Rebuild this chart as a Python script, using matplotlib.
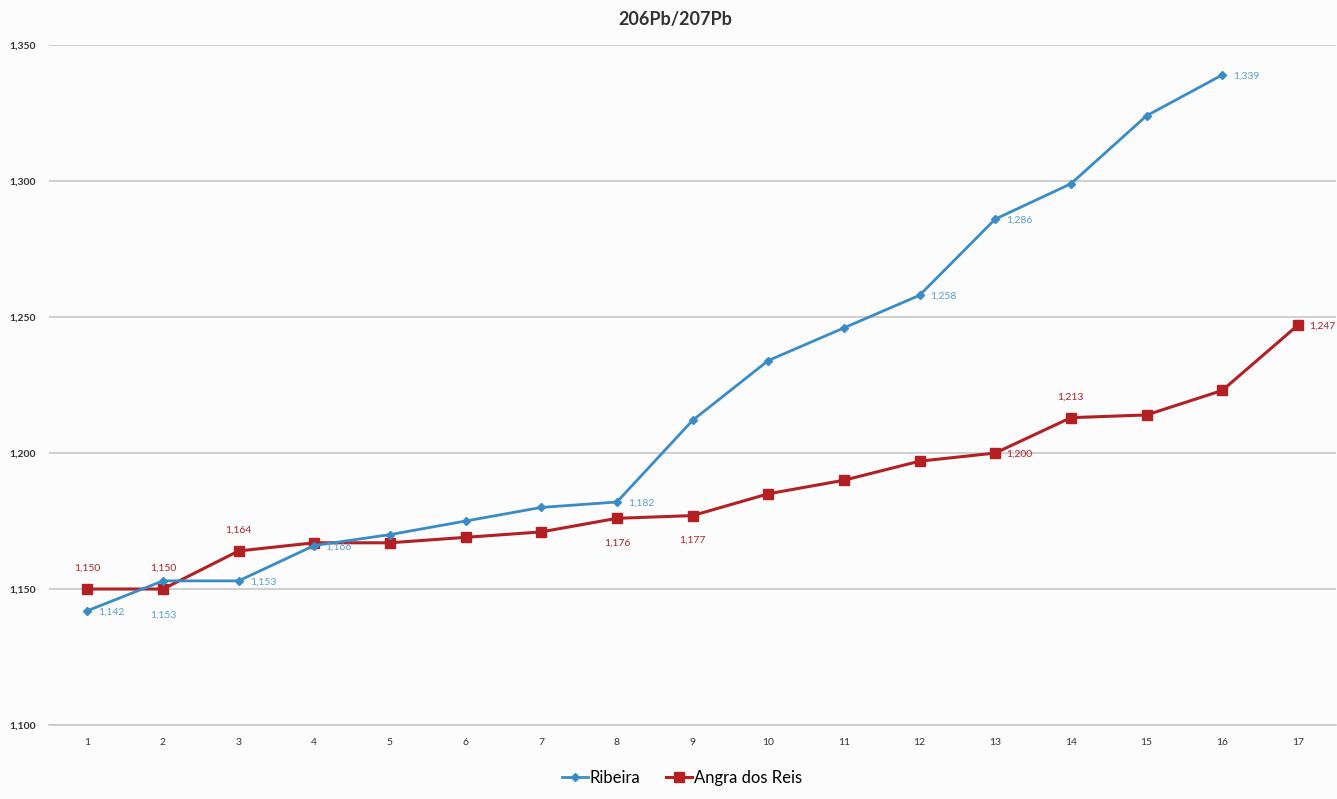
import matplotlib
matplotlib.use("Agg")
import matplotlib.pyplot as plt

plt.rcParams['font.family'] = ['Lato', 'DejaVu Sans']

samples = list(range(1, 18))

ribeira = [1.142, 1.153, 1.153, 1.166, 1.170, 1.175, 1.180, 1.182,
           1.212, 1.234, 1.246, 1.258, 1.286, 1.299, 1.324, 1.339]
angra = [1.150, 1.150, 1.164, 1.167, 1.167, 1.169, 1.171, 1.176, 1.177,
         1.185, 1.190, 1.197, 1.200, 1.213, 1.214, 1.223, 1.247]

# which points get a value label, and where (dx, dy in points, ha)
ribeira_labels = {1: (8, -1, 'left'), 2: (0, -25, 'center'),
                  3: (8, -1, 'left'), 4: (8, -1, 'left'),
                  8: (8, -1, 'left'), 12: (8, -1, 'left'),
                  13: (8, -1, 'left'), 16: (8, -1, 'left')}
angra_labels = {1: (0, 15, 'center'), 2: (0, 15, 'center'),
                3: (0, 15, 'center'), 8: (0, -18, 'center'),
                9: (0, -18, 'center'), 13: (8, -1, 'left'),
                14: (0, 15, 'center'), 17: (8, -1, 'left')}

blue = '#3a8cc6'
red = '#b22024'

def fmt(v):
    return '{:.3f}'.format(v).replace('.', ',')

fig = plt.figure(figsize=(13.37, 7.99), dpi=100)
fig.patch.set_facecolor('#fcfcfc')
ax = fig.add_axes([0.037, 0.0926, 0.962, 0.851])
ax.set_facecolor('#fcfcfc')

ax.plot(samples[:len(ribeira)], ribeira, color=blue, lw=2, marker='D', ms=4,
        label='Ribeira', zorder=3)
ax.plot(samples, angra, color=red, lw=2.2, marker='s', ms=7.5,
        label='Angra dos Reis', zorder=2)

for i, (dx, dy, ha) in ribeira_labels.items():
    ax.annotate(fmt(ribeira[i - 1]), (i, ribeira[i - 1]), xytext=(dx, dy),
                textcoords='offset points', ha=ha, va='center', fontsize=7.5,
                color='#5a9fd0')
for i, (dx, dy, ha) in angra_labels.items():
    ax.annotate(fmt(angra[i - 1]), (i, angra[i - 1]), xytext=(dx, dy),
                textcoords='offset points', ha=ha, va='center', fontsize=7.5,
                color=red)

ax.set_xlim(0.5, 17.5)
ax.set_ylim(1.100, 1.350)
yt = [1.100, 1.150, 1.200, 1.250, 1.300, 1.350]
ax.set_yticks(yt)
ax.set_yticklabels([fmt(v) for v in yt], fontsize=7.5, color='#333333',
                   fontweight='bold')
ax.set_xticks(samples)
ax.set_xticklabels([str(s) for s in samples], fontsize=7.5, color='#333333')
ax.tick_params(axis='both', length=0)
ax.tick_params(axis='y', pad=10)
ax.tick_params(axis='x', pad=9)
ax.grid(axis='y', color='#c8c8c8', lw=1.2)
for s in ['top', 'right', 'left']:
    ax.spines[s].set_visible(False)
ax.spines['bottom'].set_color('#c8c8c8')
ax.spines['bottom'].set_linewidth(1.2)

fig.text(0.505, 0.975, '206Pb/207Pb', ha='center', va='center', fontsize=13,
         fontweight='bold', color='#333333')
fig.legend(loc='center', bbox_to_anchor=(0.51, 0.026), ncol=2, frameon=False,
           fontsize=12, handlelength=1.6, columnspacing=1.5, handletextpad=0.1)

fig.savefig('out.png', dpi=100, facecolor=fig.get_facecolor())
